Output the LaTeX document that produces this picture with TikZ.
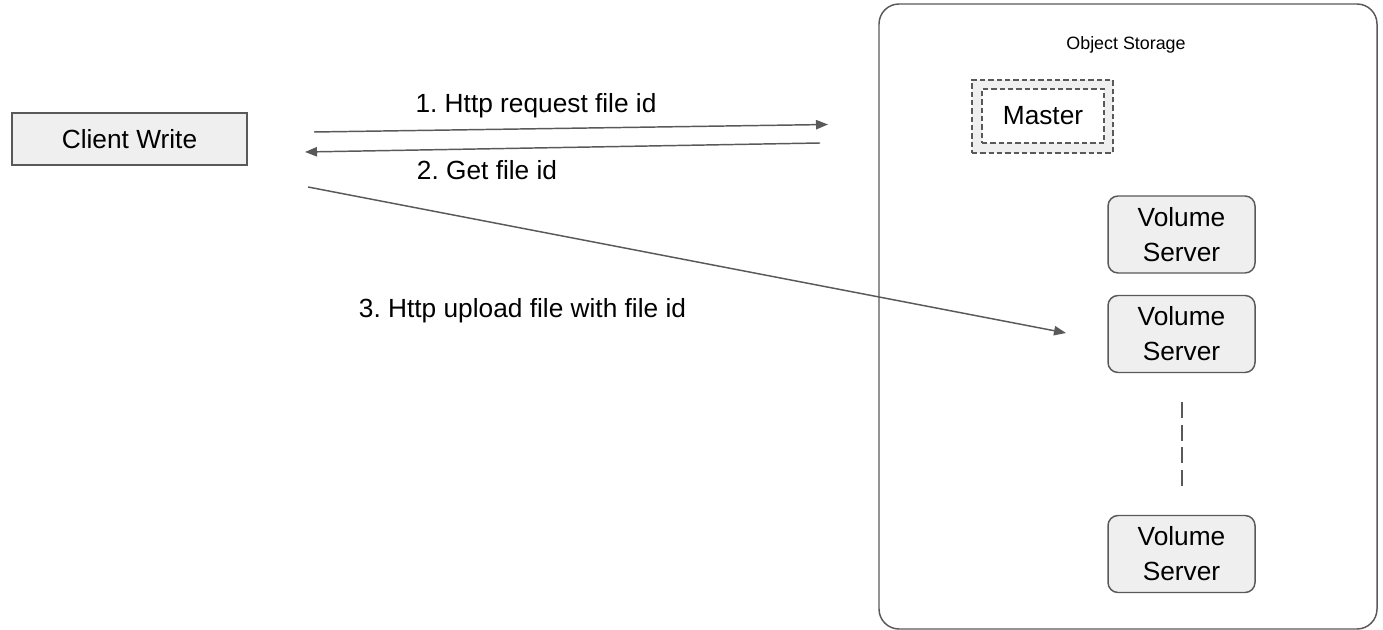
\documentclass[tikz,border=0pt]{standalone}
\usepackage{fontspec}
\setmainfont{Liberation Sans}
\usetikzlibrary{arrows.meta}
\frenchspacing
\definecolor{linegray}{HTML}{595959}
\definecolor{boxfill}{HTML}{EFEFEF}
\tikzset{
  every node/.style={font=\fontsize{19.7}{26.25}\selectfont, text=black},
  conn/.style={draw=linegray, line width=1.1pt, -{Triangle[length=9pt,width=7pt]}},
  clientbox/.style={draw=linegray, fill=boxfill, line width=1.1pt, minimum width=176.25pt, minimum height=39pt, inner sep=0pt},
  volbox/.style={draw=linegray, fill=boxfill, line width=1.1pt, rounded corners=7.5pt, minimum width=110.25pt, minimum height=57.75pt, inner sep=0pt, align=center},
  masterouter/.style={draw=linegray, fill=boxfill, line width=1.1pt, dash pattern=on 4pt off 2.25pt, minimum width=105.75pt, minimum height=54.75pt, inner sep=0pt},
  masterinner/.style={draw=linegray, fill=white, line width=1.1pt, dash pattern=on 4pt off 2.25pt, minimum width=91.5pt, minimum height=40.5pt, inner sep=0pt},
  storagebox/.style={draw=linegray, line width=1.1pt, rounded corners=15pt},
  label/.style={inner sep=0pt}
}
\begin{document}
\begin{tikzpicture}[x=0.75pt, y=-0.75pt]
  \useasboundingbox (0,0) rectangle (1383,630);

  % storage container
  \draw[storagebox] (879,4) rectangle (1377,629);
  \node[label, font=\fontsize{13.4}{16}\selectfont] (storage) at (1126,45) {Object Storage};

  % client
  \node[clientbox] (client) at (129.5,139) {Client Write};

  % master with its double dashed frame
  \node[masterouter] (masterframe) at (1042.5,116.5) {};
  \node[masterinner] (master) at (1043,116) {Master};

  % volume servers
  \node[volbox] (vol1) at (1181.5,234.5) {Volume\\Server};
  \node[volbox] (vol2) at (1181.5,334) {Volume\\Server};
  \node[volbox] (vol3) at (1181.5,554) {Volume\\Server};
  \coordinate (gaptop) at (1182,402);
  \coordinate (gapbot) at (1182,486);
  \draw[draw=linegray, line width=1.1pt, dash pattern=on 12pt off 5pt] (gaptop) -- (gapbot);

  % request / reply / upload
  \coordinate (reqstart) at (314,132);
  \coordinate (reqend) at (828,124.5);
  \coordinate (repstart) at (820,143);
  \coordinate (repend) at (305,152);
  \coordinate (upstart) at (308,187);
  \coordinate (upend) at (1066,333);
  \draw[conn] (reqstart) -- (reqend);
  \draw[conn] (repstart) -- (repend);
  \draw[conn] (upstart) -- (upend);

  \node[label] (lreq) at (536,106) {1. Http request file id};
  \node[label] (lrep) at (487,170) {2. Get file id};
  \node[label] (lup) at (522.5,311) {3. Http upload file with file id};
\end{tikzpicture}
\end{document}
